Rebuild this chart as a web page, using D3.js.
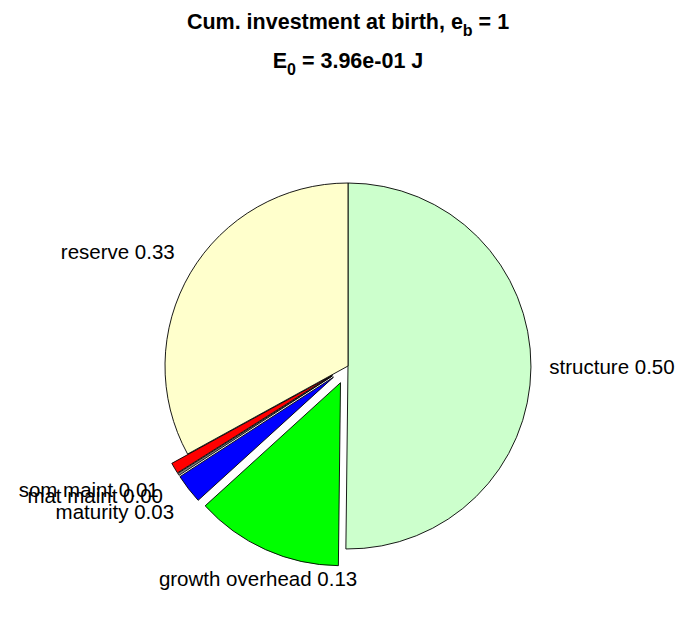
<!DOCTYPE html>
<html>
<head>
<meta charset="utf-8">
<script src="https://cdn.jsdelivr.net/npm/d3@7"></script>
<style>
  html, body { margin: 0; padding: 0; background: #fff; }
  svg { display: block; font-family: "Liberation Sans", Arial, Helvetica, sans-serif; }
</style>
</head>
<body>
<svg id="chart" width="696" height="618"></svg>
<script>
// ---- data ----
const categories = ["structure", "growth overhead", "maturity", "mat maint", "som maint", "reserve"];
const values = [0.502, 0.1307, 0.026, 0.002, 0.0096, 0.330];
const exploded = [false, true, true, true, true, false];
const colors = ["#CCFFCC", "#00FF00", "#0000FF", "#808080", "#FF0000", "#FFFFCC"];
const titleLine1 = ["Cum. investment at birth, e", "b", " = 1"];
const titleLine2 = ["E", "0", " = 3.96e-01 J"];

// ---- layout ----
const W = 696, H = 618;
const cx = 348, cy = 366, R = 183;
const svg = d3.select("#chart");

const total = d3.sum(values);
const data = categories.map((c, i) => ({ name: c, value: values[i], explode: exploded[i], color: colors[i] }));

const pie = d3.pie().value(d => d.value).sort(null).startAngle(0).endAngle(2 * Math.PI);
const arcs = pie(data);
const arc = d3.arc().innerRadius(0).outerRadius(R);

const g = svg.append("g").attr("transform", `translate(${cx},${cy})`);

arcs.forEach(a => {
  const mid = (a.startAngle + a.endAngle) / 2;
  const off = a.data.explode ? 0.1 * R : 0;
  const dx = Math.sin(mid) * off, dy = -Math.cos(mid) * off;
  g.append("path")
    .attr("d", arc(a))
    .attr("transform", `translate(${dx},${dy})`)
    .attr("fill", a.data.color)
    .attr("stroke", "#000")
    .attr("stroke-width", 0.9)
    .attr("stroke-linejoin", "miter");
});

// labels
arcs.forEach(a => {
  const mid = (a.startAngle + a.endAngle) / 2;
  const rr = R * (1.1 + (a.data.explode ? 0.1 : 0));
  const s = Math.sin(mid), c = Math.cos(mid);
  const x = s * rr, y = -c * rr;
  let anchor = "middle";
  if (s > 0.5) anchor = "start"; else if (s < -0.5) anchor = "end";
  let baseline = "central", shift = -1;
  if (c < -0.2) { baseline = "hanging"; shift = 4; }
  else if (c > 0.2) { baseline = "text-after-edge"; shift = 0; }
  const frac = a.data.value / total;
  g.append("text")
    .attr("x", x).attr("y", y + shift)
    .attr("text-anchor", anchor)
    .attr("dominant-baseline", baseline)
    .attr("font-size", 20.5)
    .attr("fill", "#000")
    .text(`${a.data.name} ${frac.toFixed(2)}`);
});

// title
function subTitle(parts, x, y) {
  const t = svg.append("text")
    .attr("x", x).attr("y", y)
    .attr("text-anchor", "middle")
    .attr("font-size", 21.5)
    .attr("font-weight", "bold")
    .attr("fill", "#000");
  t.append("tspan").text(parts[0]);
  t.append("tspan").attr("dy", 7).attr("font-size", 16).text(parts[1]);
  t.append("tspan").attr("dy", -7).text(parts[2]);
}
subTitle(titleLine1, 348, 29);
subTitle(titleLine2, 348, 68);
</script>
</body>
</html>
